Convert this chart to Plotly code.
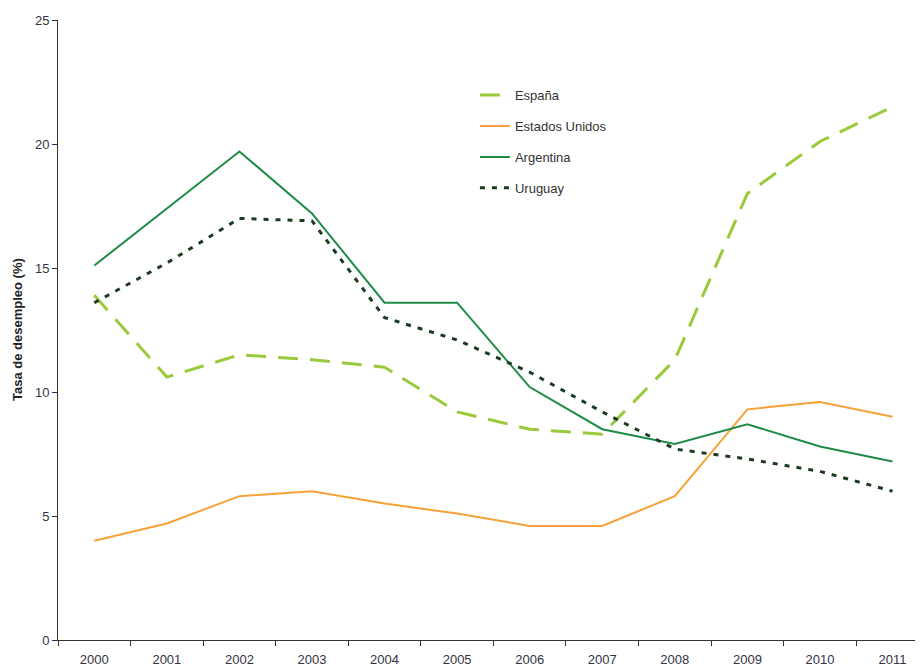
import plotly.graph_objects as go

years = ["2000", "2001", "2002", "2003", "2004", "2005", "2006", "2007", "2008", "2009", "2010", "2011"]
espana = [13.9, 10.6, 11.5, 11.3, 11.0, 9.2, 8.5, 8.3, 11.3, 18.0, 20.1, 21.5]
eeuu = [4.0, 4.7, 5.8, 6.0, 5.5, 5.1, 4.6, 4.6, 5.8, 9.3, 9.6, 9.0]
argentina = [15.1, 17.4, 19.7, 17.2, 13.6, 13.6, 10.2, 8.5, 7.9, 8.7, 7.8, 7.2]
uruguay = [13.6, 15.2, 17.0, 16.9, 13.0, 12.1, 10.8, 9.2, 7.7, 7.3, 6.8, 6.0]

fig = go.Figure()
fig.add_trace(go.Scatter(x=years, y=espana, mode="lines", name="España", legendgroup="a",
                         line=dict(color="#9ACA3C", width=3, dash="20px,12px")))
fig.add_trace(go.Scatter(x=years, y=eeuu, mode="lines", name="Estados Unidos", legendgroup="b",
                         line=dict(color="#F7A238", width=2)))
fig.add_trace(go.Scatter(x=years, y=argentina, mode="lines", name="Argentina", legendgroup="c",
                         line=dict(color="#1F8B47", width=2)))
fig.add_trace(go.Scatter(x=years, y=uruguay, mode="lines", name="Uruguay", legendgroup="d",
                         line=dict(color="#1C3B20", width=3, dash="5px,7px")))

fig.update_layout(
    width=923, height=667,
    margin=dict(l=50, r=8, t=12, b=35, autoexpand=False),
    paper_bgcolor="white", plot_bgcolor="white",
    font=dict(family="Liberation Sans, Arial, sans-serif", size=13, color="#333333"),
    showlegend=True,
    legend=dict(x=0.482, y=0.903, xanchor="left", yanchor="top", traceorder="grouped",
                tracegroupgap=11, bgcolor="rgba(0,0,0,0)",
                font=dict(size=13, color="#333333")),
    xaxis=dict(type="category", range=[-0.5, 11.42], showline=True, linecolor="#333333",
               linewidth=1, ticks="outside", ticklen=5, tickcolor="#333333", tickson="boundaries",
               showgrid=False, zeroline=False, automargin=False, ticklabelstandoff=7,
               tickfont=dict(size=13, color="#333344")),
    yaxis=dict(range=[0, 25], dtick=5, showline=True, linecolor="#333333", linewidth=1,
               ticks="outside", ticklen=5, tickcolor="#333333", showgrid=False, zeroline=False,
               automargin=False, tickfont=dict(size=13, color="#333344")),
    annotations=[dict(text="<b>Tasa de desempleo (%)</b>", xref="paper", yref="paper",
                      x=0, y=0.5, xshift=-41, xanchor="center", yanchor="middle",
                      textangle=-90, showarrow=False,
                      font=dict(size=13, color="#222222"))],
)

fig.write_html("out.html")
